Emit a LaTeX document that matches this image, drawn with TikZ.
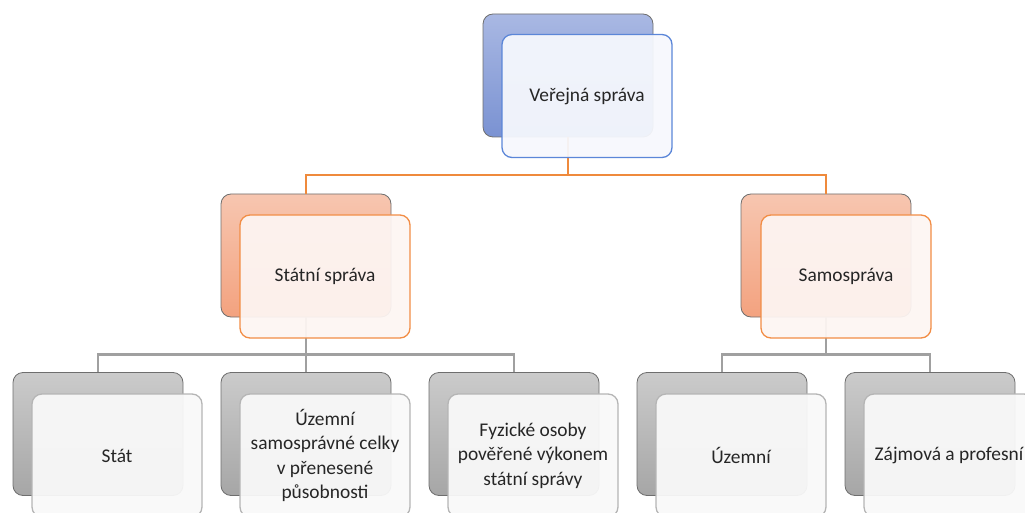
\documentclass[tikz,border=0pt]{standalone}
\usepackage{fontspec}
\setmainfont{Carlito}
\definecolor{blueA}{HTML}{A9B8E3}
\definecolor{blueB}{HTML}{7A92D2}
\definecolor{blueedge}{HTML}{5B86D8}
\definecolor{bluefill}{HTML}{F6F8FD}
\definecolor{orangeA}{HTML}{F7C6B0}
\definecolor{orangeB}{HTML}{F3A27F}
\definecolor{orangeedge}{HTML}{F28D45}
\definecolor{orangefill}{HTML}{FDF5F2}
\definecolor{greyA}{HTML}{CBCBCB}
\definecolor{greyB}{HTML}{A6A6A6}
\definecolor{greyedge}{HTML}{B5B5B5}
\definecolor{greyfill}{HTML}{F9F9F9}
\definecolor{edgedark}{HTML}{6E6E6E}
\definecolor{linkorange}{HTML}{EF8A3C}
\definecolor{linkgrey}{HTML}{A0A0A0}
\definecolor{textgrey}{HTML}{262626}
\tikzset{
  box/.style={minimum width=170pt, minimum height=123pt, inner sep=0pt,
    rounded corners=10pt, align=center},
  backbox/.style={box, draw=edgedark, line width=0.8pt},
  frontbox/.style={box, line width=1.3pt, fill opacity=0.94, text opacity=1},
  blueback/.style={backbox, top color=blueA, bottom color=blueB},
  orangeback/.style={backbox, top color=orangeA, bottom color=orangeB},
  greyback/.style={backbox, top color=greyA, bottom color=greyB},
  bluefront/.style={frontbox, draw=blueedge, fill=bluefill},
  orangefront/.style={frontbox, draw=orangeedge, fill=orangefill},
  greyfront/.style={frontbox, draw=greyedge, fill=greyfill},
  orangelink/.style={draw=linkorange, line width=2.2pt},
  greylink/.style={draw=linkgrey, line width=2.2pt}
}
\begin{document}
\begin{tikzpicture}[x=1pt, y=-1pt,
  font=\fontsize{19.4}{24.5}\selectfont, text=textgrey]
\useasboundingbox (0,0) rectangle (1025,513);
\clip (0,0) rectangle (1025,513);
% back boxes
\node[blueback] (vs-b) at (568,75.5) {};
\node[orangeback] (ss-b) at (306,255.5) {};
\node[orangeback] (sa-b) at (826,255.5) {};
\node[greyback] (st-b) at (98,434) {};
\node[greyback] (us-b) at (306,434) {};
\node[greyback] (fo-b) at (514,434) {};
\node[greyback] (uz-b) at (722,434) {};
\node[greyback] (zp-b) at (930,434) {};
% connectors
\draw[orangelink] (vs-b.south) -- ++(0,38) -| (ss-b.north);
\draw[orangelink] (vs-b.south) -- ++(0,38) -| (sa-b.north);
\foreach \k in {st,us,fo}
  \draw[greylink] (ss-b.south) -- ++(0,37) -| (\k-b.north);
\foreach \k in {uz,zp}
  \draw[greylink] (sa-b.south) -- ++(0,37) -| (\k-b.north);
% front boxes
\node[bluefront] (vs) at (587,96) {Veřejná správa};
\node[orangefront] (ss) at (325,276.5) {Státní správa};
\node[orangefront] (sa) at (846,276.5) {Samospráva};
\node[greyfront] (st) at (117,455.5) {Stát};
\node[greyfront] (us) at (325,455.5) {Územní\\samosprávné celky\\v přenesené\\působnosti};
\node[greyfront] (fo) at (533,455.5) {Fyzické osoby\\pověřené výkonem\\státní správy};
\node[greyfront] (uz) at (741,455.5) {Územní};
\node[greyfront] (zp) at (949,455.5) {Zájmová a profesní};
\end{tikzpicture}
\end{document}
